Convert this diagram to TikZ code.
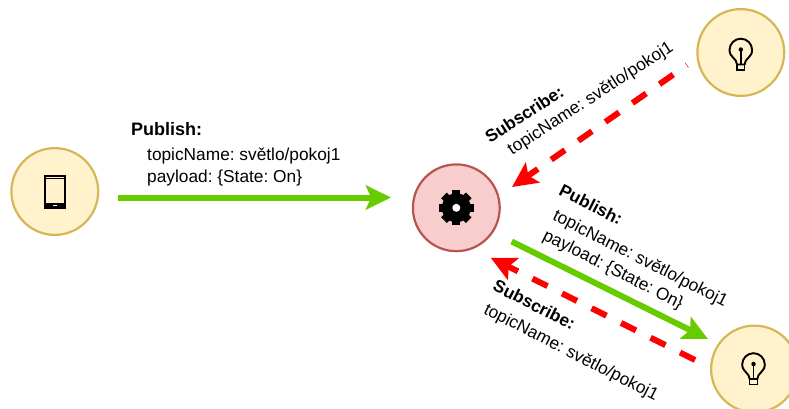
\documentclass[tikz,border=0pt]{standalone}
\usepackage{fontspec}
\setmainfont{Liberation Sans}
\usetikzlibrary{arrows.meta}

\begin{document}
\begin{tikzpicture}[x=1pt, y=-1pt,
    device/.style={circle, draw=devline, fill=devfill, line width=2.2pt, minimum size=86.8pt, inner sep=0pt},
    broker/.style={circle, draw=brokerline, fill=brokerfill, line width=2.2pt, minimum size=86.8pt, inner sep=0pt},
    pubarrow/.style={draw=pubgreen, line width=6pt, -{Stealth[length=25pt, width=24pt, inset=5pt]}, pubgreen},
    subarrow/.style={draw=red, line width=6pt, dash pattern=on 16.7pt off 16.3pt, -{Stealth[length=25pt, width=24pt, inset=5pt]}, red},
    msg/.style={inner sep=0pt, align=left, font=\frenchspacing\fontsize{17.3pt}{22pt}\selectfont},
    pics/bulb/.style={code={
        \draw[line width=1.9pt] (-3.8,12) .. controls (-3.8,6) and (-11.3,5) .. (-11.3,-2.5)
            arc[start angle=180, end angle=360, radius=11.3]
            .. controls (11.3,5) and (3.8,6) .. (3.8,12) -- cycle;
        \draw[line width=1.7pt] (0,-3) -- (0,12);
        \fill (0,-3) circle[radius=2.2];
        \draw[line width=1.4pt] (-3.8,12) rectangle (3.8,17.5);
    }},
    pics/handset/.style={code={
        \draw[line width=2pt] (-10.3,-16) rectangle (10.3,16);
        \draw[line width=1.3pt] (-10.3,-12.8) -- (10.3,-12.8);
        \fill (-10.3,11) rectangle (10.3,16);
        \fill[white] (-2,13) rectangle (2,14.2);
    }},
    pics/cog/.style={code={
        \foreach \ang in {0,45,...,315}
            \fill[rotate=\ang] (-4,-17.5) rectangle (4,-10);
        \fill (0,0) circle[radius=14.5];
        \fill[white] (0,0) circle[radius=4];
    }}]
\definecolor{devfill}{HTML}{FFF2CC}
\definecolor{devline}{HTML}{D6B656}
\definecolor{brokerfill}{HTML}{F8CECC}
\definecolor{brokerline}{HTML}{B85450}
\definecolor{pubgreen}{HTML}{66CC00}
\useasboundingbox (0,0) rectangle (789,409);

\node[device] (phone) at (54.8,191.5) {};
\node[broker] (gear) at (456.3,207.8) {};
\node[device] (lampA) at (740.8,52.5) {};
\node[device] (lampB) at (754.5,369) {};

\pic at (phone) {handset};
\pic at (gear) {cog};
\pic at (lampA) {bulb};
\pic at ([xshift=-1pt, yshift=2pt]lampB) {bulb};

\coordinate (phoneOut) at ([xshift=18.7pt, yshift=-6pt]phone.east);
\coordinate (gearIn) at ([xshift=-20.8pt, yshift=10.3pt]gear.west);
\coordinate (lampAOut) at ([xshift=-9.3pt, yshift=-12.5pt]lampA.west);
\coordinate (gearTop) at ([xshift=11.2pt, yshift=20.8pt]gear.east);
\coordinate (gearOut) at ([xshift=10.9pt, yshift=-33.7pt]gear.east);
\coordinate (lampBIn) at ([xshift=-2pt, yshift=30pt]lampB.west);
\coordinate (lampBOut) at ([xshift=-15pt, yshift=9pt]lampB.west);
\coordinate (gearBack) at ([xshift=-10.1pt, yshift=-49.9pt]gear.east);

\draw[pubarrow] (phoneOut) -- (gearIn);
\draw[subarrow, dash phase=16.2pt] (lampAOut) -- (gearTop);
\draw[pubarrow] (gearOut) -- (lampBIn);
\draw[subarrow] (lampBOut) -- (gearBack);

\node[msg, anchor=north west] (pubA) at (131,122) {\fontsize{18pt}{22pt}\selectfont\bfseries Publish:\\[3pt]\hspace{16pt}topicName: světlo/pokoj1\\\hspace{16pt}payload: \{State: On\}};
\node[msg, anchor=north west, rotate=33] (subA) at (483,133) {\bfseries Subscribe:\\\hspace{12pt}topicName: světlo/pokoj1};
\node[msg, anchor=north west, rotate=-27] (pubB) at (563.5,183) {\bfseries Publish:\\[3pt]\hspace{6pt}topicName: světlo/pokoj1\\\hspace{6pt}payload: \{State: On\}};
\node[msg, anchor=north west, rotate=-27] (subB) at (497.5,278.4) {\bfseries Subscribe:\\[3pt]\hspace{2.5pt}topicName: světlo/pokoj1};
\end{tikzpicture}
\end{document}
